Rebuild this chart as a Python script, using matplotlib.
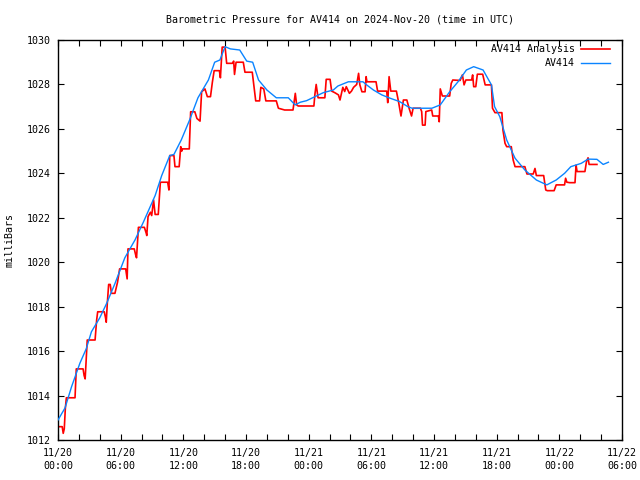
import matplotlib
matplotlib.use("Agg")
import matplotlib.pyplot as plt
from matplotlib.lines import Line2D

# ---- data (hours since 2024-11-20 00:00 UTC, pressure in mbar) ----
analysis_points = [
    (0, 1012.6), (0.4, 1012.6), (0.5, 1012.3), (0.6, 1012.5), (0.7, 1013.4), (0.8, 1013.9),
    (1.63, 1013.9), (1.75, 1015.2), (2.4, 1015.2), (2.5, 1014.9), (2.6, 1014.75), (2.7, 1015.6),
    (2.8, 1016.5), (3.55, 1016.5), (3.7, 1017.4), (3.8, 1017.77), (4.43, 1017.77), (4.55, 1017.5),
    (4.62, 1017.3), (4.72, 1018.15), (4.85, 1019.0), (5.0, 1019.0), (5.12, 1018.6), (5.45, 1018.6),
    (5.7, 1019.1), (5.9, 1019.7), (6.48, 1019.7), (6.58, 1019.4), (6.62, 1019.25), (6.7, 1020.6),
    (7.3, 1020.6), (7.45, 1020.3), (7.52, 1020.2), (7.7, 1021.57), (8.27, 1021.57), (8.45, 1021.3),
    (8.5, 1021.2), (8.62, 1022.05), (8.85, 1022.25), (8.97, 1022.1), (9.15, 1022.8), (9.3, 1022.15),
    (9.6, 1022.15), (9.8, 1023.6), (10.5, 1023.6), (10.58, 1023.35), (10.62, 1023.25), (10.7, 1024.8),
    (11.1, 1024.8), (11.2, 1024.3), (11.6, 1024.3), (11.75, 1025.2), (11.85, 1025.0), (11.9, 1025.1),
    (12.57, 1025.1), (12.7, 1026.77), (13.1, 1026.77), (13.3, 1026.47), (13.6, 1026.35), (13.75, 1027.67),
    (14.07, 1027.8), (14.3, 1027.45), (14.6, 1027.45), (14.78, 1028.1), (14.95, 1028.62), (15.45, 1028.62),
    (15.55, 1028.3), (15.72, 1029.68), (16.0, 1029.68), (16.15, 1028.95), (16.7, 1028.95), (16.82, 1029.05),
    (16.9, 1028.45), (17.05, 1029.0), (17.74, 1029.0), (17.9, 1028.55), (18.6, 1028.55), (18.8, 1027.75),
    (18.93, 1027.26), (19.3, 1027.26), (19.42, 1027.87), (19.7, 1027.8), (19.9, 1027.26), (20.9, 1027.26),
    (21.1, 1026.93), (21.7, 1026.85), (22.5, 1026.85), (22.62, 1027.25), (22.72, 1027.6), (22.85, 1027.08),
    (23.0, 1027.03), (24.5, 1027.03), (24.6, 1027.57), (24.72, 1028.0), (24.9, 1027.4), (25.55, 1027.4),
    (25.68, 1028.23), (26.05, 1028.23), (26.2, 1027.7), (26.5, 1027.63), (26.85, 1027.53), (27.0, 1027.3),
    (27.27, 1027.87), (27.45, 1027.68), (27.6, 1027.9), (27.9, 1027.6), (28.1, 1027.7), (28.3, 1027.87),
    (28.6, 1028.0), (28.78, 1028.5), (28.9, 1027.98), (29.1, 1027.67), (29.4, 1027.67), (29.5, 1028.35),
    (29.58, 1028.12), (30.45, 1028.12), (30.6, 1027.7), (31.47, 1027.7), (31.57, 1027.18), (31.7, 1028.35),
    (31.86, 1027.7), (32.4, 1027.7), (32.6, 1027.23), (32.84, 1026.58), (33.07, 1027.3), (33.4, 1027.3),
    (33.6, 1026.95), (33.85, 1026.58), (34.0, 1026.93), (34.7, 1026.93), (34.82, 1026.78), (34.9, 1026.17),
    (35.15, 1026.17), (35.22, 1026.78), (35.78, 1026.85), (35.88, 1026.58), (36.42, 1026.58), (36.5, 1026.32),
    (36.6, 1027.8), (36.8, 1027.48), (37.5, 1027.48), (37.65, 1028.05), (37.8, 1028.2), (38.5, 1028.18),
    (38.72, 1028.43), (38.88, 1027.98), (39.05, 1028.2), (39.6, 1028.2), (39.7, 1028.43), (39.8, 1027.9),
    (40.0, 1027.9), (40.15, 1028.46), (40.66, 1028.46), (40.9, 1027.98), (41.5, 1027.98), (41.6, 1026.93),
    (41.84, 1026.73), (42.5, 1026.73), (42.6, 1025.95), (42.8, 1025.35), (42.96, 1025.2), (43.4, 1025.2),
    (43.58, 1024.6), (43.76, 1024.3), (44.7, 1024.3), (44.9, 1023.97), (45.5, 1023.97), (45.67, 1024.22),
    (45.8, 1023.9), (46.5, 1023.9), (46.7, 1023.25), (46.85, 1023.22), (47.5, 1023.22), (47.7, 1023.48),
    (48.5, 1023.48), (48.6, 1023.78), (48.72, 1023.6), (49.0, 1023.58), (49.5, 1023.58), (49.6, 1024.37),
    (49.7, 1024.08), (50.45, 1024.08), (50.6, 1024.53), (50.75, 1024.7), (50.85, 1024.4), (51.6, 1024.4),
]

observed_points = [
    (0, 1012.9), (0.67, 1013.44), (1.3, 1014.4), (2.1, 1015.46), (2.7, 1016.1), (3.2, 1016.87),
    (4.0, 1017.5), (4.66, 1018.15), (5.46, 1019.05), (6.4, 1020.2), (7.37, 1021.0), (8.17, 1021.8),
    (9.3, 1023.0), (9.93, 1023.9), (10.7, 1024.8), (11.1, 1024.85), (11.8, 1025.5), (12.6, 1026.4),
    (13.4, 1027.4), (14.4, 1028.2), (15.0, 1029.0), (15.5, 1029.1), (16.0, 1029.7), (16.5, 1029.6),
    (17.4, 1029.55), (18.07, 1029.05), (18.64, 1029.0), (19.2, 1028.2), (20.0, 1027.75), (20.9, 1027.4),
    (22.05, 1027.4), (22.7, 1027.08), (23.2, 1027.2), (23.8, 1027.27), (24.6, 1027.45), (25.4, 1027.63),
    (26.36, 1027.75), (26.8, 1027.93), (27.8, 1028.12), (29.2, 1028.12), (29.55, 1027.98), (30.2, 1027.75),
    (31.0, 1027.53), (31.8, 1027.38), (32.7, 1027.23), (33.5, 1027.0), (33.9, 1026.93), (35.8, 1026.93),
    (36.6, 1027.08), (37.5, 1027.67), (38.3, 1028.12), (39.1, 1028.65), (39.8, 1028.8), (40.7, 1028.65),
    (41.5, 1027.98), (41.8, 1027.0), (42.3, 1026.55), (42.96, 1025.5), (43.76, 1024.68), (44.7, 1024.15),
    (45.8, 1023.7), (46.8, 1023.48), (47.7, 1023.7), (48.5, 1024.0), (49.1, 1024.3), (50.1, 1024.45),
    (50.75, 1024.64), (51.6, 1024.63), (52.2, 1024.4), (52.7, 1024.5),
]

x_tick_hours = [0, 6, 12, 18, 24, 30, 36, 42, 48, 54]
x_tick_labels = ["11/20\n00:00", "11/20\n06:00", "11/20\n12:00", "11/20\n18:00",
                 "11/21\n00:00", "11/21\n06:00", "11/21\n12:00", "11/21\n18:00",
                 "11/22\n00:00", "11/22\n06:00"]
y_ticks = [1012, 1014, 1016, 1018, 1020, 1022, 1024, 1026, 1028, 1030]
series_names = ["AV414 Analysis", "AV414"]
series_colors = ["#ff0000", "#0a84ff"]

FONT = "DejaVu Sans Mono"
FS = 7.2

fig = plt.figure(figsize=(6.4, 4.8), dpi=100)
ax = fig.add_axes([58 / 640, 40 / 480, 564 / 640, 400 / 480])

ah = [p[0] for p in analysis_points]
ap = [p[1] for p in analysis_points]
oh = [p[0] for p in observed_points]
op = [p[1] for p in observed_points]

ax.plot(ah, ap, color=series_colors[0], lw=1.2, zorder=2)
ax.plot(oh, op, color=series_colors[1], lw=1.0, zorder=3)

ax.set_xlim(0, 54)
ax.set_ylim(1012, 1030)
ax.set_xticks(x_tick_hours)
ax.set_xticklabels(x_tick_labels, fontfamily=FONT, fontsize=FS, linespacing=1.3)
ax.set_xticks(list(range(0, 55, 2)), minor=True)
ax.set_yticks(y_ticks)
ax.set_yticklabels([str(v) for v in y_ticks], fontfamily=FONT, fontsize=FS)
ax.tick_params(axis="both", which="both", direction="in", top=True, right=True,
               length=4, width=0.8, color="black")
ax.tick_params(axis="x", which="major", pad=6)
ax.tick_params(axis="y", which="major", pad=5)
for s in ax.spines.values():
    s.set_linewidth(1.0)
    s.set_color("black")

fig.text(340 / 640, 1 - 20 / 480, "Barometric Pressure for AV414 on 2024-Nov-20 (time in UTC)",
         ha="center", va="center", fontfamily=FONT, fontsize=FS)
fig.text(10 / 640, 0.5, "milliBars", rotation=90, ha="center", va="center",
         fontfamily=FONT, fontsize=FS)

# legend (gnuplot style: right-aligned text, sample line to the right)
for i, (name, col) in enumerate(zip(series_names, series_colors)):
    ypix = 49 + 14 * i
    yf = 1 - ypix / 480
    fig.text(575 / 640, yf, name, ha="right", va="center", fontfamily=FONT, fontsize=FS)
    fig.add_artist(Line2D([581 / 640, 610 / 640], [yf, yf], color=col,
                          lw=1.2 if i == 0 else 1.0, transform=fig.transFigure))

fig.savefig("out.png", dpi=100)
